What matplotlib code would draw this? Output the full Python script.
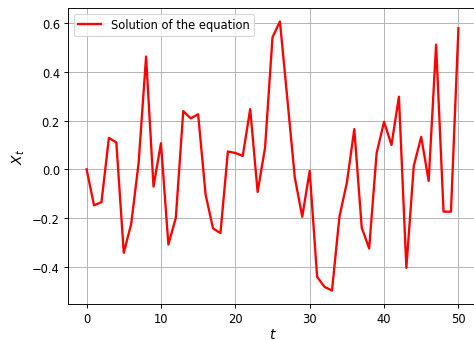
import numpy as np
import matplotlib
matplotlib.use("Agg")
import matplotlib.pyplot as plt

t = np.arange(51)
X = [0.0, -0.148, -0.135, 0.129, 0.11, -0.343, -0.224, 0.027, 0.463, -0.071,
     0.107, -0.309, -0.199, 0.239, 0.209, 0.226, -0.103, -0.243, -0.262, 0.073,
     0.067, 0.055, 0.247, -0.093, 0.089, 0.542, 0.607, 0.288, -0.034, -0.195,
     -0.007, -0.442, -0.483, -0.498, -0.195, -0.055, 0.165, -0.240, -0.325, 0.066,
     0.195, 0.10, 0.298, -0.405, 0.014, 0.133, -0.048, 0.512, -0.174, -0.174,
     0.579]

dpi = 83
fig = plt.figure(figsize=(474 / dpi, 341 / dpi), dpi=dpi)
ax = fig.add_axes([68 / 474, 36 / 341, 409 / 474, 296 / 341])
ax.plot(t, X, color='red', linewidth=2, label='Solution of the equation')
ax.set_xlabel('$t$', fontsize=12, labelpad=2)
ax.set_ylabel('$X_t$', fontsize=12)
ax.grid(True)
ax.legend(loc='upper left')

fig.savefig('out.png', dpi=dpi)
